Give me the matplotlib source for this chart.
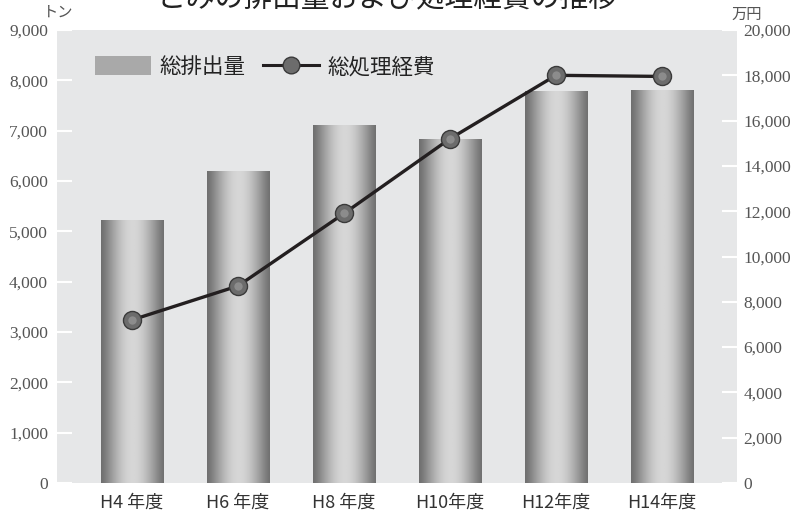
import numpy as np
import matplotlib
matplotlib.use("Agg")
import matplotlib.pyplot as plt
from matplotlib.lines import Line2D
from matplotlib.patches import Patch

plt.rcParams['font.family'] = ['Noto Sans CJK JP', 'DejaVu Sans']

categories = ["H4 年度", "H6 年度", "H8 年度", "H10年度", "H12年度", "H14年度"]
emissions = [5225, 6200, 7110, 6835, 7790, 7810]        # トン
costs = [7200, 8700, 11900, 15200, 18000, 17950]        # 万円
left_ticks = list(range(0, 9001, 1000))
right_ticks = list(range(0, 20001, 2000))
title = "ごみの排出量および処理経費の推移"

fig = plt.figure(figsize=(7.94, 5.17), dpi=100)
ax = fig.add_axes([57/794, 34/517, 680/794, 453/517])
ax.set_facecolor('#e6e7e8')
x = np.arange(len(categories))

bars = ax.bar(x, emissions, width=0.585, color='#aaaaaa', zorder=2)
# horizontal cylinder-like gradient
t = np.linspace(0, 1, 256)
g = 0.42 + 0.42 * np.sin(np.clip((t + 0.02) / 1.05, 0, 1) * np.pi) ** 1.3
grad = np.tile(g, (2, 1))
for b in bars:
    x0, w, h = b.get_x(), b.get_width(), b.get_height()
    im = ax.imshow(grad, cmap='gray', vmin=0, vmax=1, aspect='auto',
                   extent=(x0, x0 + w, 0, h), zorder=2.1, interpolation='bilinear')
    im.set_clip_path(b)

ax.set_xlim(-0.708, len(categories) - 1 + 0.708)
ax.set_ylim(0, 9000)
ax.set_xticks(x)
ax.set_xticklabels(categories, fontsize=13, color='#333333')
ax.tick_params(axis='x', length=0, pad=8)
ax.set_yticks(left_ticks)
ax.tick_params(axis='y', direction='in', length=11, width=1.5, color='white', pad=6.5)
for s in ax.spines.values():
    s.set_visible(False)

ax2 = ax.twinx()
ax2.set_ylim(0, 20000)
ax2.plot(x, costs, color='#231f20', lw=2.4, zorder=5)
ax2.plot(x, costs, 'o', ms=13, mfc='#6c6c6c', mec='#3a3a3a', mew=1.0, zorder=6)
ax2.plot(x, costs, 'o', ms=6, mfc='#9a9a9a', mec='none', zorder=7, alpha=0.7)
ax2.set_yticks(right_ticks)
ax2.tick_params(axis='y', direction='in', length=11, width=1.5, color='white', pad=4.5)
for s in ax2.spines.values():
    s.set_visible(False)

serif = dict(fontfamily='Liberation Serif', fontsize=12.5, color='#555555')
ax.set_yticklabels([f"{v:,}" for v in left_ticks], **serif)
ax2.set_yticklabels([f"{v:,}" for v in right_ticks], **serif)

fig.text(58/794, 1 - 12/517, "トン", ha='center', va='center', fontsize=11, color='#555555')
fig.text(747/794, 1 - 14/517, "万円", ha='center', va='center', fontsize=11, color='#555555')
fig.text(388/794, 1 + 1/517, title, ha='center', va='center', fontsize=20.7, color='#222222')

handles = [Patch(facecolor='#a9a9a9', edgecolor='none'),
           Line2D([0], [0], color='#231f20', lw=2.2, marker='o', ms=12,
                  mfc='#6c6c6c', mec='#3a3a3a')]
leg = ax.legend(handles, ["総排出量", "総処理経費"], loc='upper left', ncol=2,
                frameon=False, fontsize=15.5, bbox_to_anchor=(0.027, 0.985),
                handlelength=2.6, handleheight=1.0, columnspacing=0.8, handletextpad=0.4)
for txt in leg.get_texts():
    txt.set_color('#222222')

fig.savefig("out.png", dpi=100)
